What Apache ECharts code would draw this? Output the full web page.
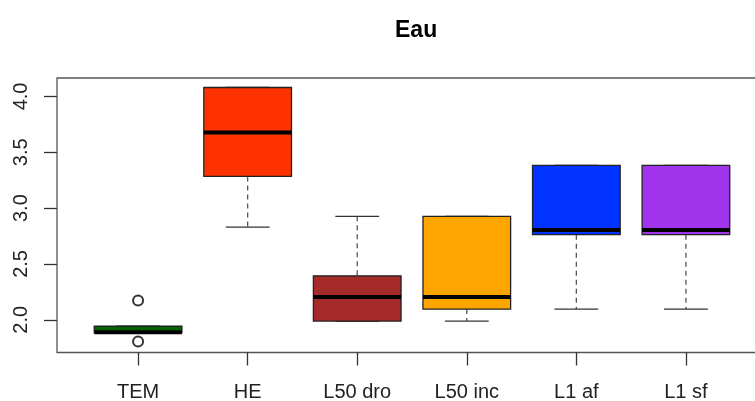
<!DOCTYPE html>
<html>
<head>
<meta charset="utf-8">
<script src="https://cdn.jsdelivr.net/npm/echarts@6/dist/echarts.min.js"></script>
<style>html,body{margin:0;padding:0;background:#fff;}#c{width:755px;height:401px;}</style>
</head>
<body>
<div id="c"></div>
<script>
var categories = ['TEM', 'HE', 'L50 dro', 'L50 inc', 'L1 af', 'L1 sf'];
var lowWhisker = [1.885, 2.83, 1.988, 1.988, 2.096, 2.096];
var q1 = [1.885, 3.284, 1.988, 2.096, 2.762, 2.762];
var median = [1.888, 3.678, 2.203, 2.203, 2.803, 2.803];
var q3 = [1.942, 4.08, 2.394, 2.926, 3.383, 3.383];
var highWhisker = [1.942, 4.08, 2.926, 2.926, 3.383, 3.383];
var boxColors = ['#006400', '#FF3300', '#A52A2A', '#FFA500', '#0033FF', '#A033EB'];
var outlierCategory = ['TEM', 'TEM'];
var outlierValues = [2.173, 1.806];
var yTicks = [2.0, 2.5, 3.0, 3.5, 4.0];
var xTicks = [1, 2, 3, 4, 5, 6];

var boxData = categories.map(function (c, i) {
  return [i + 1, lowWhisker[i], q1[i], median[i], q3[i], highWhisker[i], i];
});
var outlierData = outlierValues.map(function (v, i) {
  return [categories.indexOf(outlierCategory[i]) + 1, v];
});

var FONT = 'Liberation Sans, Arial, sans-serif';
var chart = echarts.init(document.getElementById('c'), null, {renderer: 'canvas'});

function renderBox(params, api) {
  var x = api.value(0);
  var lo = api.value(1), a = api.value(2), m = api.value(3), b = api.value(4), hi = api.value(5);
  var idx = api.value(6);
  var halfBox = 0.4, halfCap = 0.2;
  var pLo = api.coord([x, lo]), pA = api.coord([x, a]), pM = api.coord([x, m]);
  var pB = api.coord([x, b]), pHi = api.coord([x, hi]);
  var left = api.coord([x - halfBox, m])[0], right = api.coord([x + halfBox, m])[0];
  var cl = api.coord([x - halfCap, m])[0], cr = api.coord([x + halfCap, m])[0];
  var cx = pM[0];
  var children = [];
  var dash = {stroke: '#555', lineWidth: 1.3, lineDash: [5, 4]};
  if (pLo[1] - pA[1] > 0.5) {
    children.push({type: 'line', shape: {x1: cx, y1: pA[1], x2: cx, y2: pLo[1]}, style: dash});
  }
  if (pB[1] - pHi[1] > 0.5) {
    children.push({type: 'line', shape: {x1: cx, y1: pHi[1], x2: cx, y2: pB[1]}, style: dash});
  }
  children.push({type: 'line', shape: {x1: cl, y1: pLo[1], x2: cr, y2: pLo[1]}, style: {stroke: '#333', lineWidth: 1.3}});
  children.push({type: 'line', shape: {x1: cl, y1: pHi[1], x2: cr, y2: pHi[1]}, style: {stroke: '#333', lineWidth: 1.3}});
  children.push({type: 'rect', shape: {x: left, y: pB[1], width: right - left, height: pA[1] - pB[1]},
    style: {fill: boxColors[idx], stroke: '#222', lineWidth: 1.3}});
  children.push({type: 'line', shape: {x1: left, y1: pM[1], x2: right, y2: pM[1]}, style: {stroke: '#000', lineWidth: 4}});
  return {type: 'group', children: children};
}

chart.setOption({
  animation: false,
  backgroundColor: '#fff',
  title: {
    text: 'Eau', left: 390, top: 14,
    textStyle: {fontFamily: FONT, fontSize: 23, fontWeight: 'bold', color: '#000'}
  },
  grid: {left: 57, right: -12, top: 78, bottom: 48.5, show: true, borderColor: '#555', borderWidth: 1.3,
    containLabel: false, outerBoundsMode: 'none'},
  xAxis: {
    type: 'value', min: 0.26, max: 6.74,
    splitLine: {show: false},
    axisLine: {show: false},
    axisTick: {show: true, length: 13, customValues: xTicks, lineStyle: {color: '#333', width: 1.3}},
    axisLabel: {
      customValues: xTicks, margin: 30, fontFamily: FONT, fontSize: 20, color: '#222',
      formatter: function (v) { return categories[Math.round(v) - 1] || ''; }
    }
  },
  yAxis: {
    type: 'value', min: 1.707, max: 4.165,
    splitLine: {show: false},
    axisLine: {show: false},
    axisTick: {show: true, length: 13, customValues: yTicks, lineStyle: {color: '#333', width: 1.3}},
    axisLabel: {
      customValues: yTicks, rotate: 90, margin: 26, fontFamily: FONT, fontSize: 20, color: '#222',
      formatter: function (v) { return v.toFixed(1); }
    }
  },
  series: [
    {type: 'custom', renderItem: renderBox, data: boxData, encode: {x: 0, y: [1, 2, 3, 4, 5]}, clip: false},
    {type: 'scatter', data: outlierData, symbol: 'circle', symbolSize: 10,
      itemStyle: {color: '#fff', borderColor: '#000', borderWidth: 2}}
  ]
});
</script>
</body>
</html>
